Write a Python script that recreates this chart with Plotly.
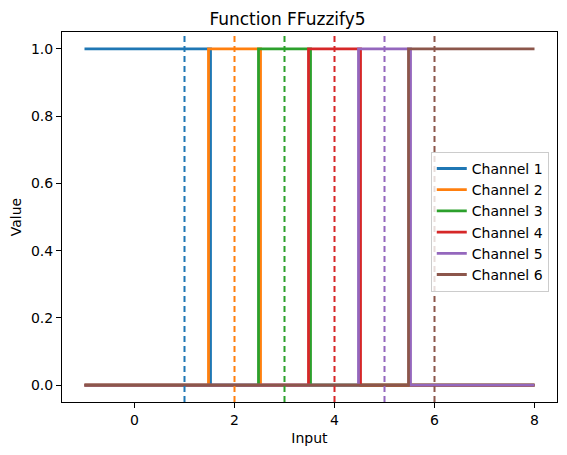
import plotly.graph_objects as go

# step breakpoints for each channel (x positions and values)
channel_names = ["Channel 1", "Channel 2", "Channel 3", "Channel 4", "Channel 5", "Channel 6"]
channel_x = [
    [-1, 1.52, 1.52, 8],
    [-1, 1.48, 1.48, 2.52, 2.52, 8],
    [-1, 2.48, 2.48, 3.52, 3.52, 8],
    [-1, 3.48, 3.48, 4.52, 4.52, 8],
    [-1, 4.48, 4.48, 5.52, 5.52, 8],
    [-1, 5.48, 5.48, 8],
]
channel_y = [
    [1, 1, 0, 0],
    [0, 0, 1, 1, 0, 0],
    [0, 0, 1, 1, 0, 0],
    [0, 0, 1, 1, 0, 0],
    [0, 0, 1, 1, 0, 0],
    [0, 0, 1, 1],
]
centers = [1, 2, 3, 4, 5, 6]
colors = ["#1f77b4", "#ff7f0e", "#2ca02c", "#d62728", "#9467bd", "#8c564b"]

fig = go.Figure()
for name, xs, ys, c in zip(channel_names, channel_x, channel_y, colors):
    fig.add_trace(go.Scatter(x=xs, y=ys, mode="lines", name=name,
                             line=dict(color=c, width=2.8)))

for cx, c in zip(centers, colors):
    fig.add_shape(type="line", x0=cx, x1=cx, y0=0, y1=1, xref="x", yref="y domain",
                  line=dict(color=c, width=2, dash="6px,4px"), layer="above")

axis_style = dict(showline=True, mirror=True, linecolor="black", linewidth=1,
                  ticks="outside", ticklen=5, tickcolor="black", showgrid=False,
                  zeroline=False, automargin=False, tickfont=dict(size=14, color="black"))

# page body has an 8px margin, so the figure is a bit smaller than the window
fig.update_layout(
    width=559, height=447,
    margin=dict(l=54, r=10, t=24, b=53),
    paper_bgcolor="white", plot_bgcolor="white",
    font=dict(family="DejaVu Sans", color="black"),
    title=dict(text="Function FFuzzify5", x=0.5, xanchor="center", y=0.976,
               yanchor="middle", automargin=False, font=dict(size=17)),
    xaxis=dict(axis_style, range=[-1.45, 8.45], tickvals=[0, 2, 4, 6, 8],
               title=dict(text="Input", font=dict(size=14), standoff=6)),
    yaxis=dict(axis_style, range=[-0.05, 1.05], tickvals=[0, 0.2, 0.4, 0.6, 0.8, 1.0],
               tickformat=".1f", title=dict(text="Value", font=dict(size=14), standoff=8)),
    legend=dict(x=0.745, y=0.676, xanchor="left", yanchor="top",
                bgcolor="rgba(255,255,255,0.8)", bordercolor="#cccccc", borderwidth=1,
                font=dict(size=14), tracegroupgap=0, itemwidth=30),
    showlegend=True,
)

fig.write_html("out.html")
